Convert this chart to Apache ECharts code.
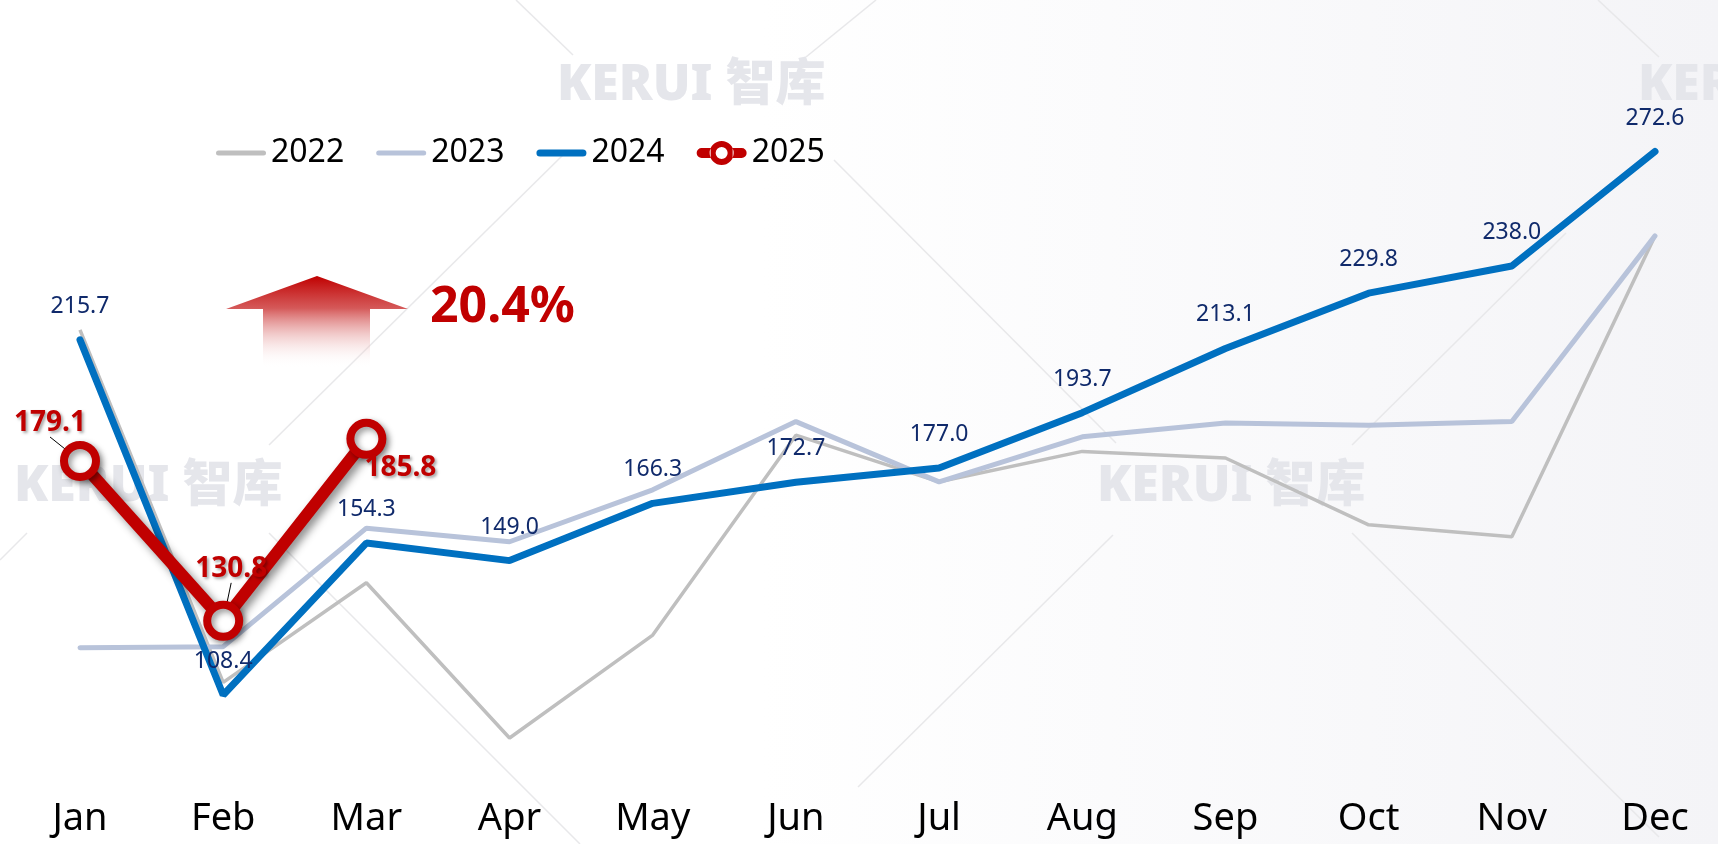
<!DOCTYPE html>
<html>
<head>
<meta charset="utf-8">
<script src="https://cdn.jsdelivr.net/npm/echarts@6/dist/echarts.min.js"></script>
<style>
  html, body { margin: 0; padding: 0; background: #fff; }
  #chart { width: 1718px; height: 844px; }
</style>
</head>
<body>
<div id="chart"></div>
<script>
const months = ['Jan', 'Feb', 'Mar', 'Apr', 'May', 'Jun', 'Jul', 'Aug', 'Sep', 'Oct', 'Nov', 'Dec']
const v2022 = [218.7, 112.2, 142.3, 95.4, 126.5, 186.9, 172.8, 182.0, 180.0, 159.8, 156.2, 247.1]
const v2023 = [122.7, 123.0, 158.8, 154.7, 170.4, 191.0, 172.8, 186.4, 190.6, 189.9, 191.0, 247.1]
const v2024 = [215.7, 108.4, 154.3, 149.0, 166.3, 172.7, 177.0, 193.7, 213.1, 229.8, 238.0, 272.6]
const v2025 = [179.1, 130.8, 185.8]
const growth = '20.4%'

const red = '#c00000'
const fontFamily = "'Noto Sans', 'Noto Sans CJK SC', sans-serif"

// where the 2025 labels sit relative to their points
const redLabelShift = [[-30, -38], [8, -52], [34, 29]]

// faint diagonal lines of the background pattern
const bgLines = [
  [[516, 0], [573, 55]],
  [[876, 0], [806, 57]],
  [[565, 153], [269, 445]],
  [[834, 160], [1116, 443]],
  [[1598, 0], [1659, 57]],
  [[1566, 233], [1352, 445]],
  [[27, 533], [0, 560]],
  [[269, 533], [580, 844]],
  [[1113, 535], [858, 787]],
  [[1352, 533], [1659, 837]],
]

function watermark(left, top) {
  return {
    type: 'text',
    left: left,
    top: top,
    z: 0,
    style: {
      text: 'KERUI 智库',
      fill: '#e5e6eb',
      font: "900 50px 'Noto Sans', 'Noto Sans CJK SC', sans-serif",
    },
  }
}

const legendIcons = {
  '2022': 'path://M2.5,0H47.5A2.5,2.5,0,0,1,47.5,5H2.5A2.5,2.5,0,0,1,2.5,0Z',
  '2023': 'path://M2.5,0H47.5A2.5,2.5,0,0,1,47.5,5H2.5A2.5,2.5,0,0,1,2.5,0Z',
  '2024': 'path://M3.5,0H46.5A3.5,3.5,0,0,1,46.5,7H3.5A3.5,3.5,0,0,1,3.5,0Z',
  '2025': 'path://M5,7H14V17H5A5,5,0,0,1,5,7Z M36,7H45A5,5,0,0,1,45,17H36Z M13,12A12,12,0,1,0,37,12A12,12,0,1,0,13,12Z M19,12A6,6,0,1,1,31,12A6,6,0,1,1,19,12Z',
}
const legendColors = { '2022': '#bfbfbf', '2023': '#b8c3da', '2024': '#0070c0', '2025': red }

const chart = echarts.init(document.getElementById('chart'))
chart.setOption({
  backgroundColor: '#fff',
  textStyle: { fontFamily },
  animation: false,
  graphic: [
    {
      type: 'rect',
      z: -1,
      shape: { x: 760, y: 0, width: 958, height: 844 },
      style: {
        fill: {
          type: 'linear', x: 0, y: 0, x2: 1, y2: 0,
          colorStops: [
            { offset: 0, color: 'rgba(244,244,247,0)' },
            { offset: 1, color: 'rgba(244,244,247,1)' },
          ],
        },
      },
    },
    ...bgLines.map((l) => ({
      type: 'line',
      z: -1,
      shape: { x1: l[0][0], y1: l[0][1], x2: l[1][0], y2: l[1][1] },
      style: { stroke: '#e8e8ea', lineWidth: 1.5 },
    })),
    watermark(557, 61),
    watermark(14, 462),
    watermark(1097, 462),
    watermark(1638, 61),
    {
      type: 'polygon',
      z: 1,
      shape: {
        points: [[317, 276], [408, 309], [370, 309], [370, 368], [263, 368], [263, 309], [226, 309]],
      },
      style: {
        fill: {
          type: 'linear', x: 0, y: 0, x2: 0, y2: 1,
          colorStops: [
            { offset: 0, color: 'rgba(192,0,0,1)' },
            { offset: 0.35, color: 'rgba(205,60,60,0.85)' },
            { offset: 1, color: 'rgba(255,255,255,0)' },
          ],
        },
      },
    },
    {
      type: 'text',
      left: 430,
      top: 283,
      z: 1,
      style: {
        text: growth,
        fill: red,
        font: "bold 50px 'Noto Sans', sans-serif",
      },
    },
  ],
  legend: {
    left: 211,
    top: 132,
    itemWidth: 50,
    itemHeight: 26,
    itemGap: 32,
    textStyle: { fontSize: 32, color: '#000', fontFamily },
    data: ['2022', '2023', '2024', '2025'].map((n) => ({
      name: n,
      icon: legendIcons[n],
      itemStyle: { color: legendColors[n], borderWidth: 0 },
    })),
  },
  grid: { left: 80, right: 63, top: 127, bottom: 55 },
  xAxis: {
    type: 'category',
    data: months,
    boundaryGap: false,
    axisLine: { show: false },
    axisTick: { show: false },
    axisLabel: { fontSize: 38, color: '#000', margin: 11, fontFamily },
  },
  yAxis: {
    type: 'value',
    min: 80,
    max: 280,
    show: false,
    splitLine: { show: false },
  },
  series: [
    {
      name: '2022',
      type: 'line',
      data: v2022,
      symbol: 'none',
      color: '#bfbfbf',
      lineStyle: { width: 3.5, color: '#bfbfbf' },
    },
    {
      name: '2023',
      type: 'line',
      data: v2023,
      symbol: 'none',
      color: '#b8c3da',
      lineStyle: { width: 5, color: '#b8c3da', cap: 'round' },
    },
    {
      name: '2024',
      type: 'line',
      data: v2024,
      symbol: 'circle',
      symbolSize: 2,
      showSymbol: true,
      color: '#0070c0',
      itemStyle: { color: '#0070c0' },
      lineStyle: { width: 7, color: '#0070c0', cap: 'round' },
      label: {
        show: true,
        position: 'top',
        distance: 21,
        fontSize: 23,
        color: '#102a6b',
        fontFamily,
        formatter: (p) => p.value.toFixed(1),
      },
    },
    {
      name: '2025',
      type: 'line',
      data: v2025.map((v, i) => (i === 2 ? { value: v, labelLine: { show: false } } : v)),
      symbol: 'circle',
      symbolSize: 32,
      color: red,
      lineStyle: {
        width: 12,
        color: red,
        shadowColor: 'rgba(0,0,0,0.45)',
        shadowBlur: 8,
        shadowOffsetX: 4,
        shadowOffsetY: 4,
      },
      itemStyle: {
        color: '#fff',
        borderColor: red,
        borderWidth: 8,
        shadowColor: 'rgba(0,0,0,0.4)',
        shadowBlur: 6,
        shadowOffsetX: 3,
        shadowOffsetY: 3,
      },
      label: {
        show: true,
        position: 'inside',
        fontSize: 28,
        fontWeight: 'bold',
        color: red,
        fontFamily,
        textShadowColor: 'rgba(0,0,0,0.35)',
        textShadowBlur: 3,
        textShadowOffsetX: 2,
        textShadowOffsetY: 2,
        formatter: (p) => p.value.toFixed(1),
      },
      labelLine: { show: true, lineStyle: { color: '#000', width: 1 } },
      labelLayout: (p) => ({ dx: redLabelShift[p.dataIndex][0], dy: redLabelShift[p.dataIndex][1] }),
      z: 5,
    },
  ],
})
</script>
</body>
</html>
